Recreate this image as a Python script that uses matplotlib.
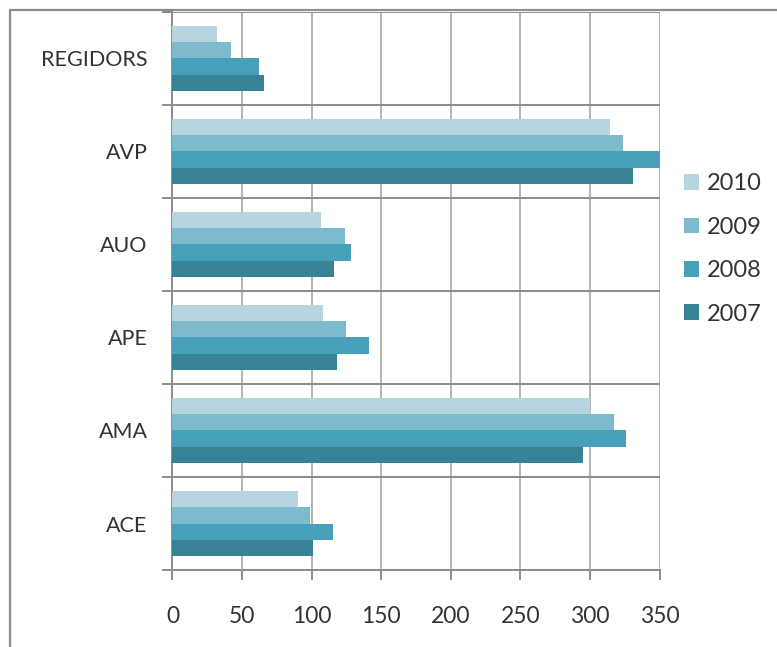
import matplotlib.pyplot as plt
from matplotlib.patches import Rectangle
import numpy as np

plt.rcParams['font.family'] = ['Lato', 'DejaVu Sans']

# Dades llegides del gràfic
categories = ['ACE', 'AMA', 'APE', 'AUO', 'AVP', 'REGIDORS']
anys = ['2010', '2009', '2008', '2007']
valors_2010 = [90, 300, 108, 107, 314, 32]
valors_2009 = [99, 317, 125, 124, 324, 42]
valors_2008 = [115, 326, 141, 128, 350, 62]
valors_2007 = [101, 295, 118, 116, 331, 66]
x_ticks = [0, 50, 100, 150, 200, 250, 300, 350]

colors = ['#b7d5e0', '#7dbacd', '#47a0b9', '#388296']
series = [valors_2010, valors_2009, valors_2008, valors_2007]

fig = plt.figure(figsize=(7.77, 6.47), dpi=100)
ax = fig.add_axes([0.222, 0.119, 0.627, 0.8625])

y = np.arange(len(categories))
h = 0.175
offsets = [1.5 * h, 0.5 * h, -0.5 * h, -1.5 * h]
for valors, color, off, any_ in zip(series, colors, offsets, anys):
    ax.barh(y + off, valors, height=h, color=color, label=any_, zorder=3)

ax.set_xlim(0, 350)
ax.set_ylim(-0.5, len(categories) - 0.5)
ax.set_xticks(x_ticks)
ax.set_yticks(y)
ax.set_yticklabels(categories)
ax.set_yticks(np.arange(-0.5, len(categories), 1.0), minor=True)

# línies de la quadrícula
ax.grid(axis='x', color='#b4b4b4', linewidth=1.4, zorder=0)
ax.grid(axis='y', which='minor', color='#8c8c8c', linewidth=1.4, zorder=0)
ax.tick_params(axis='y', which='major', length=0, pad=18, labelsize=15.5, labelcolor='#333333')
ax.tick_params(axis='y', which='minor', length=7, width=1.4, color='#8c8c8c', direction='out')
ax.tick_params(axis='x', length=7, width=1.4, color='#8c8c8c', pad=19, labelsize=16.5, labelcolor='#333333')

for s in ['top', 'right']:
    ax.spines[s].set_visible(False)
ax.spines['left'].set_color('#8c8c8c')
ax.spines['left'].set_linewidth(1.4)
ax.spines['bottom'].set_color('#8c8c8c')
ax.spines['bottom'].set_linewidth(1.4)

leg = fig.legend(loc='upper left', bbox_to_anchor=(0.853, 0.765), frameon=False,
                 fontsize=17, handlelength=0.65, handleheight=0.65, handletextpad=0.3,
                 labelspacing=0.95, labelcolor='#333333')

# marc del gràfic
fig.patches.append(Rectangle((10 / 777, -0.1), 1.2, 1 - 10 / 647 + 0.1, transform=fig.transFigure,
                             fill=False, edgecolor='#8c8c8c', linewidth=1.6, zorder=0))

plt.savefig('out.png', dpi=100)
